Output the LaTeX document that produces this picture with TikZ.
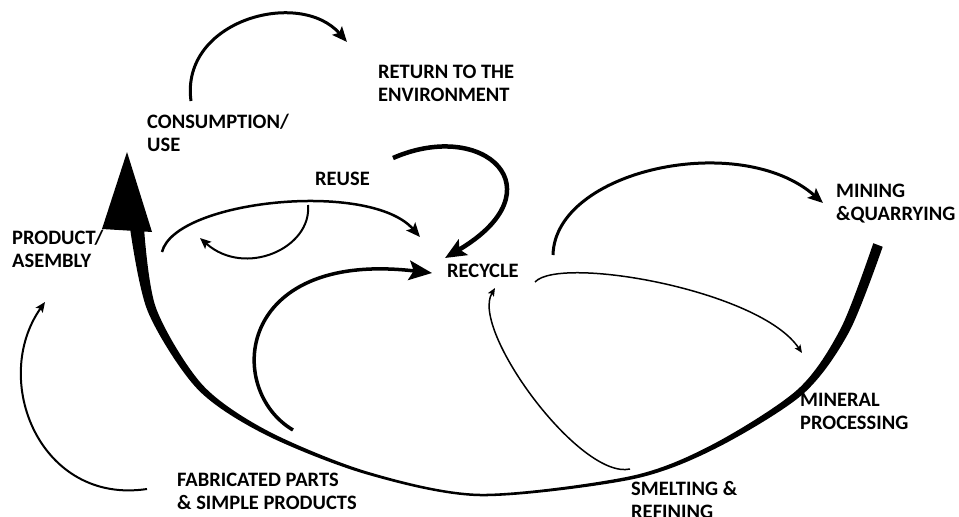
\documentclass[tikz,border=0pt]{standalone}
\usepackage{fontspec}
\setmainfont{Carlito}
\usetikzlibrary{arrows.meta}

\begin{document}
\begin{tikzpicture}[x=1pt, y=-1pt,
	lbl/.style={anchor=west, align=left, inner sep=0pt, font=\fontsize{20.5}{23}\selectfont\bfseries},
	head/.style={-{Stealth[length=#1, width'=0pt 0.85, inset'=0pt 0.2]}}]
	\useasboundingbox (0,0) rectangle (959,517);

	\node[lbl](A) at (378, 83){RETURN TO THE\\ENVIRONMENT};
	\node[lbl](B) at (147, 133){CONSUMPTION/\\USE};
	\node[lbl](C) at (315, 179){REUSE};
	\node[lbl](D) at (12, 249){PRODUCT/\\ASEMBLY};
	\node[lbl](E) at (447, 271){RECYCLE};
	\node[lbl](F) at (836, 204){MINING\\\&QUARRYING};
	\node[lbl](G) at (800, 411){MINERAL\\PROCESSING};
	\node[lbl](H) at (631, 500){SMELTING \&\\REFINING};
	\node[lbl](I) at (177, 491){FABRICATED PARTS\\\& SIMPLE PRODUCTS};

	\coordinate(B1) at (191, 101);
	\coordinate(A1) at (347, 42);
	\coordinate(C1) at (162, 252);
	\coordinate(C2) at (420, 237);
	\coordinate(C3) at (308, 205);
	\coordinate(C4) at (200, 238);
	\coordinate(E1) at (393, 158);
	\coordinate(E2) at (445, 258);
	\coordinate(E3) at (293, 430);
	\coordinate(E4) at (432, 273);
	\coordinate(E5) at (553, 255);
	\coordinate(F1) at (823, 203);
	\coordinate(E6) at (535, 282);
	\coordinate(G1) at (802, 353);
	\coordinate(H1) at (630, 469);
	\coordinate(E7) at (495, 288);
	\coordinate(I1) at (147, 489);
	\coordinate(D1) at (45, 302);

	\draw [line width=3, head=15pt] (B1) .. controls (180, 20) and (300, -12) .. (A1);
	\draw [line width=2.5, head=14pt] (C1) .. controls (175, 200) and (370, 180) .. (C2);
	\draw [line width=2, head=11pt] (C3) .. controls (312, 248) and (245, 278) .. (C4);
	\draw [line width=4.5, head=21pt] (E1) .. controls (485, 118) and (560, 190) .. (E2);
	\draw [line width=3.5, head=23pt] (E3) .. controls (225, 390) and (235, 250) .. (E4);
	\draw [line width=3, head=15pt] (E5) .. controls (555, 170) and (740, 130) .. (F1);
	\draw [line width=1.5, head=8pt] (E6) .. controls (560, 255) and (760, 290) .. (G1);
	\draw [line width=1.5, head=8pt] (H1) .. controls (580, 480) and (470, 330) .. (E7);
	\draw [line width=2, head=10pt] (I1) .. controls (40, 505) and (-10, 380) .. (D1);

	\fill plot[smooth] coordinates {(882.7,246.8) (849,332.1) (802.3,394.6) (714.1,449.2) (630.35,479.7) (480,496.25) (366.6,474.4) (266,435) (197.6,389.2) (147.9,311.7) (130,228)}
		-- plot[smooth] coordinates {(144,228) (156.1,308.3) (202.4,384.8) (268,431) (367.4,471.6) (480,493.75) (629.65,476.3) (711.9,444.8) (797.7,389.4) (841,327.9) (873.3,243.2)} -- cycle;
	\fill (127, 152) -- (102, 229) -- (152, 232) -- cycle;
\end{tikzpicture}
\end{document}
